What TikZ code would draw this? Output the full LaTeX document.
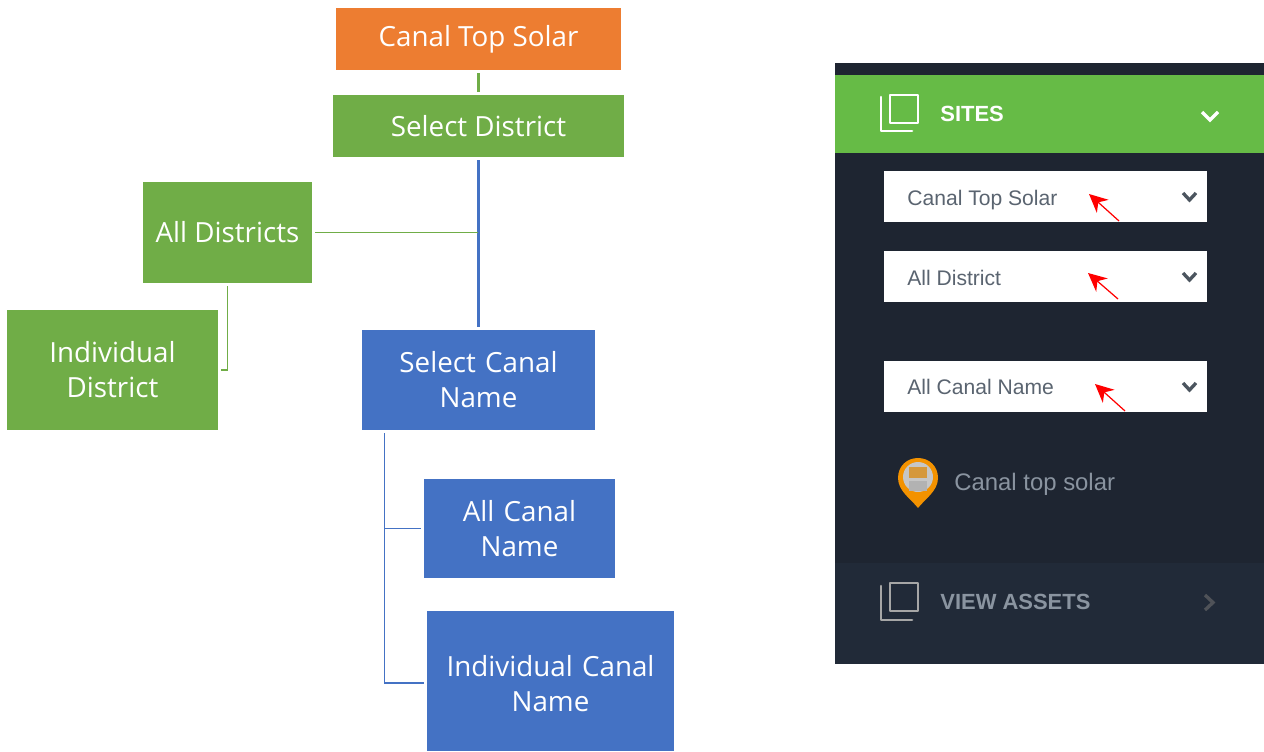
\documentclass[tikz,border=0pt]{standalone}
\usepackage{fontspec}
\setmainfont{Open Sans}
\newfontfamily\uifont{Liberation Sans}
\usetikzlibrary{calc,arrows.meta}
\definecolor{cgreen}{HTML}{70AD47}
\definecolor{cblue}{HTML}{4472C4}
\definecolor{corange}{HTML}{ED7D31}
\definecolor{paneldark}{HTML}{1E2531}
\definecolor{panelband}{HTML}{212A38}
\definecolor{sitegreen}{HTML}{66BB46}
\definecolor{seltext}{HTML}{5A6470}
\definecolor{mutedtext}{HTML}{8A94A0}
\definecolor{pinorange}{HTML}{F39200}
\tikzset{
  x=0.02cm,y=-0.02cm,
  flowbox/.style={draw=none,fill=#1,text=white,align=center,inner sep=0pt,
    font=\fontsize{15.8}{19.9}\selectfont},
  gline/.style={draw=cgreen,line width=0.65pt,shorten <=1.7pt,shorten >=1.7pt},
  bline/.style={draw=cblue,line width=0.65pt,shorten <=1.7pt,shorten >=1.7pt},
  selbox/.style={draw=none,fill=white,minimum width=6.46cm,minimum height=1.02cm,inner sep=0pt},
  seltxt/.style={anchor=base west,inner sep=0pt,text=seltext,font=\uifont\fontsize{12}{14}\selectfont},
  redarrow/.style={draw=red,line width=0.7pt,-{Stealth[length=10.5pt,width=10pt]}},
  chev/.style={line width=1.9pt,line join=miter},
  icon/.style={line width=1.5pt,line join=round,line cap=round,fill=none},
  headtxt/.style={anchor=base west,inner sep=0pt,font=\uifont\bfseries\fontsize{12.5}{16}\selectfont},
}
\begin{document}
\begin{tikzpicture}
\useasboundingbox (0,0) rectangle (1264,751);
% left flow chart
\node[flowbox=corange,minimum width=5.7cm,minimum height=1.24cm] (top) at (478.5,39) {Canal Top Solar};
\node[flowbox=cgreen,minimum width=5.82cm,minimum height=1.24cm] (dist) at (478.5,126) {Select District};
\node[flowbox=cgreen,minimum width=3.38cm,minimum height=2.02cm] (alld) at (227.5,232.5) {All Districts};
\node[flowbox=cgreen,minimum width=4.22cm,minimum height=2.4cm,text width=3.6cm] (indd) at (112.5,370) {Individual\\District};
\node[flowbox=cblue,minimum width=4.66cm,minimum height=2cm,text width=4cm] (scn) at (478.5,380) {Select Canal\\Name};
\node[flowbox=cblue,minimum width=3.82cm,minimum height=1.98cm,text width=3.4cm] (allc) at (519.5,528.5) {All Canal\\Name};
\node[flowbox=cblue,minimum width=4.94cm,minimum height=2.8cm,text width=4.6cm] (indc) at (550.5,681) {\rule{0pt}{15pt}Individual Canal\\Name};
\draw[draw=cgreen,line width=1.6pt,shorten <=1.7pt,shorten >=1.7pt] (top.south) -- (dist.north);
\draw[bline,line width=1.5pt] (dist.south) -- (scn.north);
\coordinate (junction) at (dist.south |- alld.east);
\draw[gline,shorten >=0.4pt] (alld.east) -- (junction);
\draw[gline] (alld.south) |- (indd.east);
\coordinate (treetop) at ($(scn.south west)+(22.5,0)$);
\draw[bline] (treetop) |- (allc.west);
\draw[bline] (treetop) |- ($(indc.west)+(0,2)$);
% right panel
\fill[paneldark] (835,63) rectangle (1264,664);
\fill[panelband] (835,563) rectangle (1264,664);
\fill[sitegreen] (835,75) rectangle (1264,153);
% sites header
\draw[icon,draw=white] (890,95) rectangle (918,123);
\draw[icon,draw=white] (881,97) -- (881,131) -- (912,131);
\node[headtxt,text=white] (sites) at (940,121.5) {SITES};
\coordinate (c1a) at (1202,112); \coordinate (c1b) at (1210,120); \coordinate (c1c) at (1218,112);
\draw[chev,draw=white] (c1a) -- (c1b) -- (c1c);
% selects
\node[selbox] (s1) at (1045.5,196.5) {};
\node[selbox] (s2) at (1045.5,276.5) {};
\node[selbox] (s3) at (1045.5,386.5) {};
\node[seltxt] (t1) at (907,205.5) {Canal Top Solar};
\node[seltxt] (t2) at (907,285.5) {All District};
\node[seltxt] (t3) at (907,394) {All Canal Name};
\foreach \yy in {193,273,383} {
  \draw[chev,draw=seltext!85!black] (1183,\yy) -- (1189.5,\yy+7) -- (1196,\yy);
}
% red arrows
\coordinate (a1s) at (1119,221); \coordinate (a1e) at (1089,194);
\coordinate (a2s) at (1118,299); \coordinate (a2e) at (1088,273);
\coordinate (a3s) at (1125,411); \coordinate (a3e) at (1095,384);
\draw[redarrow] (a1s) -- (a1e);
\draw[redarrow] (a2s) -- (a2e);
\draw[redarrow] (a3s) -- (a3e);
% pin
\fill[pinorange] (918,508) .. controls (911,499) and (898,491) .. (898,478)
  .. controls (898,466) and (907,458) .. (918,458)
  .. controls (929,458) and (938,466) .. (938,478)
  .. controls (938,491) and (925,499) .. (918,508) -- cycle;
\fill[gray!45] (918,477) circle[radius=15];
\fill[pinorange!70!gray!90] (909,467) rectangle (927,478);
\fill[gray!60] (909,481) rectangle (927,491);
\node[anchor=base west,inner sep=0pt,text=mutedtext,font=\uifont\fontsize{13.6}{16}\selectfont] (t4) at (954,490) {Canal top solar};
% view assets
\draw[icon,draw=gray!70] (890,583) rectangle (918,611);
\draw[icon,draw=gray!70] (881,586) -- (881,620) -- (912,620);
\node[headtxt,text=mutedtext] (va) at (940,609) {VIEW ASSETS};
\draw[chev,draw=gray!50!paneldark] (1205,595) -- (1213,602.5) -- (1205,610);
\end{tikzpicture}
\end{document}
